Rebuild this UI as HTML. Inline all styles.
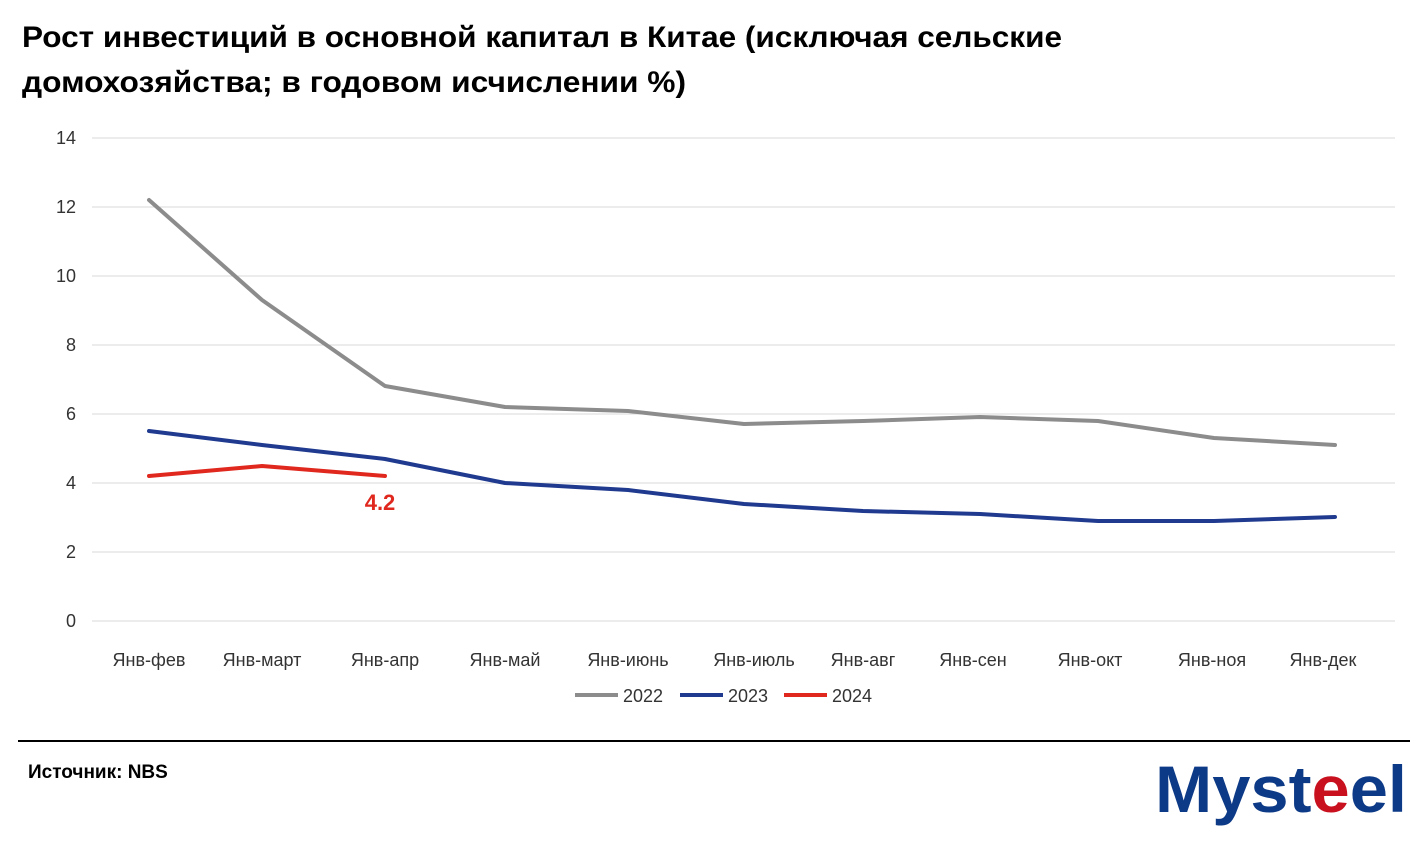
<!DOCTYPE html>
<html><head><meta charset="utf-8"><style>
body{margin:0;background:#fff;width:1428px;height:836px;overflow:hidden}
</style></head><body>
<svg width="1428" height="836" xmlns="http://www.w3.org/2000/svg" font-family="Liberation Sans, sans-serif">
<text x="22" y="47" font-size="30" font-weight="bold" fill="#000" textLength="1040" lengthAdjust="spacingAndGlyphs">Рост инвестиций в основной капитал в Китае (исключая сельские</text>
<text x="22" y="92" font-size="30" font-weight="bold" fill="#000" textLength="664" lengthAdjust="spacingAndGlyphs">домохозяйства; в годовом исчислении %)</text>
<g stroke="#d9d9d9" stroke-width="1">
<line x1="92" x2="1395" y1="138" y2="138"/><line x1="92" x2="1395" y1="207" y2="207"/>
<line x1="92" x2="1395" y1="276" y2="276"/><line x1="92" x2="1395" y1="345" y2="345"/>
<line x1="92" x2="1395" y1="414" y2="414"/><line x1="92" x2="1395" y1="483" y2="483"/>
<line x1="92" x2="1395" y1="552" y2="552"/><line x1="92" x2="1395" y1="621" y2="621"/>
</g>
<g font-size="18" fill="#333" text-anchor="end">
<text x="76" y="144">14</text><text x="76" y="213">12</text><text x="76" y="282">10</text>
<text x="76" y="351">8</text><text x="76" y="420">6</text><text x="76" y="489">4</text>
<text x="76" y="558">2</text><text x="76" y="627">0</text>
</g>
<g font-size="18" fill="#333" text-anchor="middle">
<text x="149" y="666">Янв-фев</text><text x="262" y="666">Янв-март</text><text x="385" y="666">Янв-апр</text>
<text x="505" y="666">Янв-май</text><text x="628" y="666">Янв-июнь</text><text x="754" y="666">Янв-июль</text>
<text x="863" y="666">Янв-авг</text><text x="973" y="666">Янв-сен</text><text x="1090" y="666">Янв-окт</text>
<text x="1212" y="666">Янв-ноя</text><text x="1323" y="666">Янв-дек</text>
</g>
<g fill="none" stroke-width="4" stroke-linejoin="round" stroke-linecap="round">
<polyline stroke="#8c8c8c" points="149,200 262,300 385,386 505,407 628,411 744,424 863,421 980,417 1098,421 1214,438 1335,445"/>
<polyline stroke="#1f3a8f" points="149,431 262,445 385,459 505,483 628,490 744,504 863,511 980,514 1098,521 1214,521 1335,517"/>
<polyline stroke="#e0281e" points="149,476 262,466 385,476"/>
</g>
<text x="380" y="510" font-size="22" font-weight="bold" fill="#e0281e" text-anchor="middle">4.2</text>
<g font-size="18" fill="#333">
<line x1="575" x2="618" y1="695" y2="695" stroke="#8c8c8c" stroke-width="4"/><text x="623" y="702">2022</text>
<line x1="680" x2="723" y1="695" y2="695" stroke="#1f3a8f" stroke-width="4"/><text x="728" y="702">2023</text>
<line x1="784" x2="827" y1="695" y2="695" stroke="#e0281e" stroke-width="4"/><text x="832" y="702">2024</text>
</g>
<line x1="18" x2="1410" y1="741" y2="741" stroke="#000" stroke-width="2"/>
<text x="28" y="778" font-size="19" font-weight="bold" fill="#000">Источник: NBS</text>
<text x="1155" y="812" font-size="66" font-weight="bold" fill="#0d3a86" textLength="252" lengthAdjust="spacingAndGlyphs">Myst<tspan fill="#c8101e">e</tspan>el</text>
</svg>
</body></html>
